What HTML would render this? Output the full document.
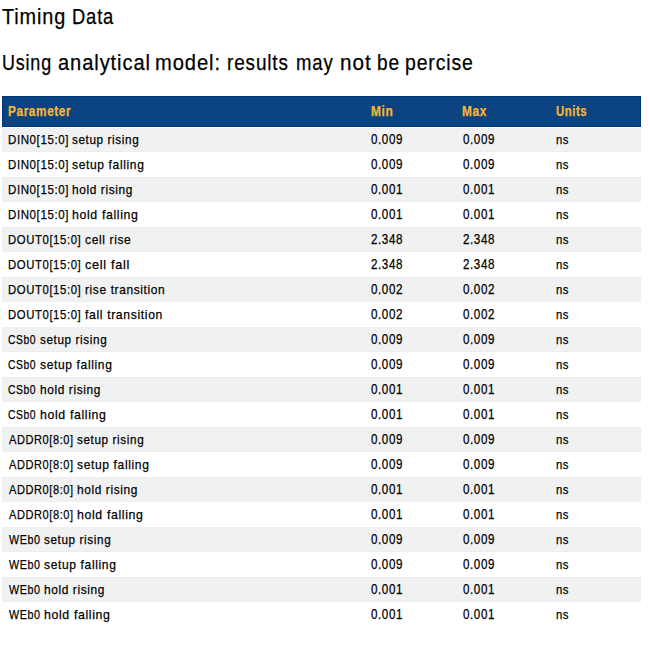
<!DOCTYPE html><html><head><meta charset="utf-8"><title>Timing Data</title><style>
html,body{margin:0;padding:0;background:#fff;}
body{width:650px;height:646px;position:relative;overflow:hidden;font-family:"Liberation Sans",sans-serif;color:#000;}
.t{position:absolute;white-space:pre;line-height:1;transform-origin:0 0;}
.w{position:absolute;white-space:pre;line-height:1;font-size:22px;letter-spacing:1.0px;transform-origin:0 0;color:#000;-webkit-text-stroke:0.25px currentColor;}
.hd{position:absolute;left:2px;top:96px;width:639px;height:31px;background:#0b4280;box-shadow:inset 0 0 0 1px #03337f;}
.hd .t{top:8px;font-size:14.0px;font-weight:bold;letter-spacing:0.7px;color:#f7b733;-webkit-text-stroke:0.25px currentColor;}
.r{position:absolute;left:2px;width:639px;height:25px;}
.g{background:#f0f1f1;box-shadow:inset 0 0 0 1px #edefef;}
.r .t{top:5.6px;font-size:13.5px;letter-spacing:0.7px;color:#000;-webkit-text-stroke:0.25px currentColor;}
.r .c0{left:5.95px;transform:scaleX(0.8536);} .r .c1{left:369.09px;transform:scaleX(0.8298);} .r .c2{left:460.79px;transform:scaleX(0.8298);} .r .c3{left:553.97px;transform:scaleX(0.836);}
.r .c1,.r .c2{font-size:14px;margin-top:-0.4px;}
.hd .c0{left:6.26px;transform:scaleX(0.8451);} .hd .c1{left:368.65px;transform:scaleX(0.8524);} .hd .c2{left:460.36px;transform:scaleX(0.8466);} .hd .c3{left:554.19px;transform:scaleX(0.8082);}
</style></head><body>
<span class="w" style="left:2.47px;top:52px;transform:scaleX(0.8157)">Using</span>
<span class="w" style="left:58.2px;top:52px;transform:scaleX(0.9137)">analytical</span>
<span class="w" style="left:155.24px;top:52px;transform:scaleX(0.9151)">model:</span>
<span class="w" style="left:227.32px;top:52px;transform:scaleX(0.8611)">results</span>
<span class="w" style="left:295.54px;top:52px;transform:scaleX(0.8426)">may</span>
<span class="w" style="left:340.21px;top:52px;transform:scaleX(0.9414)">not</span>
<span class="w" style="left:377.41px;top:52px;transform:scaleX(0.8684)">be</span>
<span class="w" style="left:405.3px;top:52px;transform:scaleX(0.8815)">percise</span>
<span class="w" style="left:2.46px;top:6px;transform:scaleX(0.9022)">Timing</span>
<span class="w" style="left:71.54px;top:6px;transform:scaleX(0.8354)">Data</span>
<div class="hd"><span class="t c0">Parameter</span><span class="t c1">Min</span><span class="t c2">Max</span><span class="t c3">Units</span></div>
<div class="r g" style="top:128px;height:24px"><span class="t p" style="top:4.6px;left:5.75px;transform:scaleX(0.8522)">DIN0[15:0]</span><span class="t p" style="top:4.6px;left:70.38px;transform:scaleX(0.8686)">setup rising</span><span class="t c1" style="top:4.6px;">0.009</span><span class="t c2" style="top:4.6px;">0.009</span><span class="t c3" style="top:4.6px;">ns</span></div>
<div class="r" style="top:152px"><span class="t p" style="left:5.75px;transform:scaleX(0.8522)">DIN0[15:0]</span><span class="t p" style="left:70.38px;transform:scaleX(0.8931)">setup falling</span><span class="t c1" style="">0.009</span><span class="t c2" style="">0.009</span><span class="t c3" style="">ns</span></div>
<div class="r g" style="top:177px"><span class="t p" style="left:5.75px;transform:scaleX(0.8522)">DIN0[15:0]</span><span class="t p" style="left:70.44px;transform:scaleX(0.8806)">hold rising</span><span class="t c1" style="">0.001</span><span class="t c2" style="">0.001</span><span class="t c3" style="">ns</span></div>
<div class="r" style="top:202px"><span class="t p" style="left:5.75px;transform:scaleX(0.8522)">DIN0[15:0]</span><span class="t p" style="left:70.42px;transform:scaleX(0.9131)">hold falling</span><span class="t c1" style="">0.001</span><span class="t c2" style="">0.001</span><span class="t c3" style="">ns</span></div>
<div class="r g" style="top:227px"><span class="t p" style="left:5.96px;transform:scaleX(0.8401)">DOUT0[15:0]</span><span class="t p" style="left:82.95px;transform:scaleX(0.8913)">cell rise</span><span class="t c1" style="">2.348</span><span class="t c2" style="">2.348</span><span class="t c3" style="">ns</span></div>
<div class="r" style="top:252px"><span class="t p" style="left:5.96px;transform:scaleX(0.8401)">DOUT0[15:0]</span><span class="t p" style="left:82.93px;transform:scaleX(0.9447)">cell fall</span><span class="t c1" style="">2.348</span><span class="t c2" style="">2.348</span><span class="t c3" style="">ns</span></div>
<div class="r g" style="top:277px"><span class="t p" style="left:5.96px;transform:scaleX(0.8401)">DOUT0[15:0]</span><span class="t p" style="left:82.74px;transform:scaleX(0.8846)">rise transition</span><span class="t c1" style="">0.002</span><span class="t c2" style="">0.002</span><span class="t c3" style="">ns</span></div>
<div class="r" style="top:302px"><span class="t p" style="left:5.96px;transform:scaleX(0.8401)">DOUT0[15:0]</span><span class="t p" style="left:83.29px;transform:scaleX(0.9038)">fall transition</span><span class="t c1" style="">0.002</span><span class="t c2" style="">0.002</span><span class="t c3" style="">ns</span></div>
<div class="r g" style="top:327px"><span class="t p" style="left:5.82px;transform:scaleX(0.7685)">CSb0</span><span class="t p" style="left:37.68px;transform:scaleX(0.8686)">setup rising</span><span class="t c1" style="">0.009</span><span class="t c2" style="">0.009</span><span class="t c3" style="">ns</span></div>
<div class="r" style="top:352px"><span class="t p" style="left:5.82px;transform:scaleX(0.7685)">CSb0</span><span class="t p" style="left:37.68px;transform:scaleX(0.8931)">setup falling</span><span class="t c1" style="">0.009</span><span class="t c2" style="">0.009</span><span class="t c3" style="">ns</span></div>
<div class="r g" style="top:377px"><span class="t p" style="left:5.82px;transform:scaleX(0.7685)">CSb0</span><span class="t p" style="left:37.74px;transform:scaleX(0.8806)">hold rising</span><span class="t c1" style="">0.001</span><span class="t c2" style="">0.001</span><span class="t c3" style="">ns</span></div>
<div class="r" style="top:402px"><span class="t p" style="left:5.82px;transform:scaleX(0.7685)">CSb0</span><span class="t p" style="left:37.72px;transform:scaleX(0.9131)">hold falling</span><span class="t c1" style="">0.001</span><span class="t c2" style="">0.001</span><span class="t c3" style="">ns</span></div>
<div class="r g" style="top:427px"><span class="t p" style="left:6.6px;transform:scaleX(0.818)">ADDR0[8:0]</span><span class="t p" style="left:74.78px;transform:scaleX(0.8686)">setup rising</span><span class="t c1" style="">0.009</span><span class="t c2" style="">0.009</span><span class="t c3" style="">ns</span></div>
<div class="r" style="top:452px"><span class="t p" style="left:6.6px;transform:scaleX(0.818)">ADDR0[8:0]</span><span class="t p" style="left:74.78px;transform:scaleX(0.8931)">setup falling</span><span class="t c1" style="">0.009</span><span class="t c2" style="">0.009</span><span class="t c3" style="">ns</span></div>
<div class="r g" style="top:477px"><span class="t p" style="left:6.6px;transform:scaleX(0.818)">ADDR0[8:0]</span><span class="t p" style="left:74.84px;transform:scaleX(0.8806)">hold rising</span><span class="t c1" style="">0.001</span><span class="t c2" style="">0.001</span><span class="t c3" style="">ns</span></div>
<div class="r" style="top:502px"><span class="t p" style="left:6.6px;transform:scaleX(0.818)">ADDR0[8:0]</span><span class="t p" style="left:74.82px;transform:scaleX(0.9131)">hold falling</span><span class="t c1" style="">0.001</span><span class="t c2" style="">0.001</span><span class="t c3" style="">ns</span></div>
<div class="r g" style="top:527px"><span class="t p" style="left:6.6px;transform:scaleX(0.7948)">WEb0</span><span class="t p" style="left:41.58px;transform:scaleX(0.8686)">setup rising</span><span class="t c1" style="">0.009</span><span class="t c2" style="">0.009</span><span class="t c3" style="">ns</span></div>
<div class="r" style="top:552px"><span class="t p" style="left:6.6px;transform:scaleX(0.7948)">WEb0</span><span class="t p" style="left:41.58px;transform:scaleX(0.8931)">setup falling</span><span class="t c1" style="">0.009</span><span class="t c2" style="">0.009</span><span class="t c3" style="">ns</span></div>
<div class="r g" style="top:577px"><span class="t p" style="left:6.6px;transform:scaleX(0.7948)">WEb0</span><span class="t p" style="left:41.64px;transform:scaleX(0.8806)">hold rising</span><span class="t c1" style="">0.001</span><span class="t c2" style="">0.001</span><span class="t c3" style="">ns</span></div>
<div class="r" style="top:602px"><span class="t p" style="left:6.6px;transform:scaleX(0.7948)">WEb0</span><span class="t p" style="left:41.62px;transform:scaleX(0.9131)">hold falling</span><span class="t c1" style="">0.001</span><span class="t c2" style="">0.001</span><span class="t c3" style="">ns</span></div>
</body></html>
